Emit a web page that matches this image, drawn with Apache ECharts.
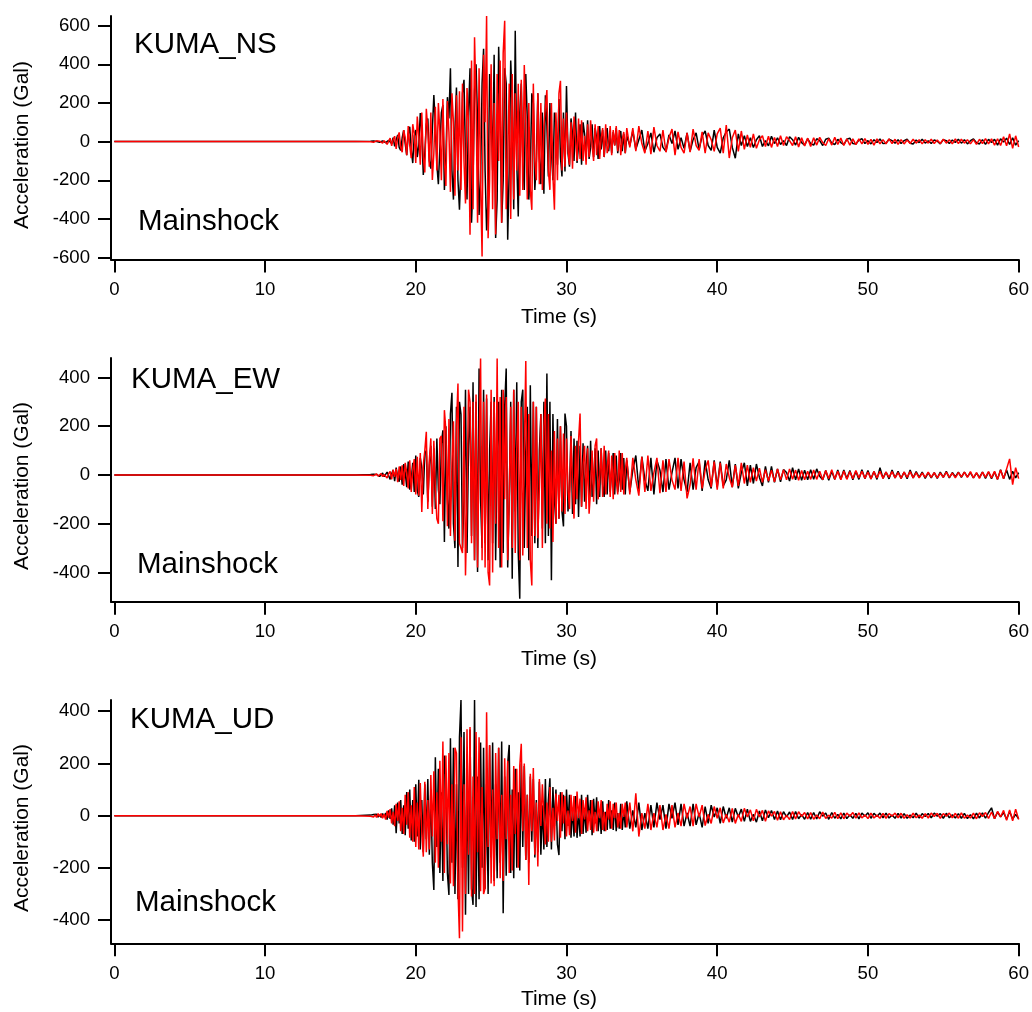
<!DOCTYPE html>
<html>
<head>
<meta charset="utf-8">
<script src="https://cdn.jsdelivr.net/npm/echarts@6/dist/echarts.min.js"></script>
<style>
html,body{margin:0;padding:0;background:#fff;}
#c{width:1032px;height:1012px;}
</style>
</head>
<body>
<div id="c"></div>
<script>
// ---- time sampling (s) ----
const segAStart = 17.0, segAStep = 0.1;   // 17.0 .. 34.0
const segBStart = 34.2, segBStep = 0.2;   // 34.2 .. 60.0
const leadTimes = [0, 16];
const leadValues = [0, 0];

const xTicks = [0, 10, 20, 30, 40, 50, 60];
const yTicksNS = [-600, -400, -200, 0, 200, 400, 600];
const yTicksEW = [-400, -200, 0, 200, 400];
const yTicksUD = [-400, -200, 0, 200, 400];

const panelNames = ['KUMA_NS', 'KUMA_EW', 'KUMA_UD'];
const eventLabel = 'Mainshock';

// ---- NS, black ----
const nsBlackA = [
 2,-1,3,-4,1,5,-3,-6,4,8,
 -5,-12,6,15,-10,20,-25,8,35,-30,
 -45,20,60,-10,-70,35,77,-40,-111,30,
 60,-80,-20,148,40,-172,-60,90,120,-100,
 -140,60,241,80,-120,-220,-30,150,190,-250,
 -80,230,120,379,-150,-300,60,280,-200,-353,
 -120,250,320,-80,-300,150,380,-420,-200,260,
 400,100,-380,-200,300,480,-150,-460,-300,350,
 200,-150,450,-499,-300,491,150,-420,-200,380,
 300,-508,-150,420,200,-350,574,-100,-388,150,
 300,-100,-250,350,120,-300,-150,250,200,-250,
 -100,250,-80,-220,150,-270,240,80,-180,200,
 -50,-200,150,100,-120,220,-80,-180,150,-155,
 288,-60,-130,120,40,-100,150,-110,-20,90,
 -120,100,40,-80,110,-90,-30,90,-80,70,
 20,-90,80,-40,60,-80,30,70,-50,40,
 -60,50,-20,70,-60,10,55,-50,40,-60,30
];
const nsBlackB = [
 -20,55,-40,10,60,-50,-10,45,-55,20,
 40,-30,-50,35,-10,55,-40,20,-35,45,
 -50,10,45,-40,30,55,-20,-45,60,-30,
 -60,20,50,65,-30,-86,40,-20,30,-25,
 20,-30,10,30,-25,5,-22,28,-10,20,
 -15,5,-20,25,10,-18,22,-5,-18,15,
 -10,-18,15,5,-20,12,18,-8,-15,12,
 -5,-15,12,18,-10,-12,8,15,-10,5,
 -12,10,-5,14,-10,-8,12,5,-8,10,
 -10,5,12,-8,-12,8,-5,12,-8,4,
 -10,8,2,-12,10,5,-10,8,-4,12,
 -8,10,-12,5,14,-6,-12,10,-14,12,
 -5,12,-18,15,-2,18,-15,20,-18,5
];
// ---- NS, red ----
const nsRedA = [
 -1,2,-3,1,4,-5,2,6,-8,5,
 10,-14,-5,18,-22,10,28,-38,20,48,
 -30,-55,60,20,-70,80,-20,-85,90,40,
 -110,130,30,-120,150,-80,-160,170,60,-130,
 150,-198,-60,180,-150,200,50,-200,220,-100,
 -230,210,50,-260,250,100,-280,240,-150,260,
 -250,300,-100,-320,277,100,-482,420,-350,540,
 200,-420,380,-200,-594,450,100,650,-500,-200,
 400,-350,200,-480,350,-100,420,-420,458,625,
 -350,-100,300,-400,350,-300,250,-150,300,-280,
 320,-250,396,100,-300,200,-250,-353,300,-100,
 -200,250,-220,200,-250,80,180,267,-150,-250,
 200,-180,-353,150,-200,250,315,-150,120,-130,
 150,-40,-120,100,-140,130,20,-100,120,-90,
 110,-100,30,-120,90,-80,110,-20,-100,90,
 -70,80,-90,20,70,-80,90,-60,-20,80,
 -70,60,-20,80,-50,60,-70,10,50,-60,70
];
const nsRedB = [
 -30,70,-50,80,-10,-60,55,-65,75,-20,
 -50,60,-55,20,65,-70,50,-30,-60,45,
 -55,65,-20,-45,50,-60,45,10,-50,40,
 70,-60,86,-85,20,60,-50,55,-40,35,
 -30,40,-35,10,30,-25,28,-30,22,-25,
 30,-20,25,5,-20,25,-28,20,-22,18,
 -25,20,-18,22,-5,-20,16,-18,22,-15,
 18,-20,15,-18,14,-16,14,-12,16,-14,
 12,-18,14,-12,10,-12,14,-10,12,-14,
 10,-12,8,-10,12,-8,10,-12,10,-8,
 12,-10,8,-10,12,-8,10,-12,14,-10,
 12,-8,10,-12,10,-14,12,-10,15,-12,
 14,-18,15,-20,25,-22,40,-35,30,-28
];
// ---- EW, black ----
const ewBlackA = [
 2,-1,3,-4,2,5,-6,1,8,-7,
 -10,12,15,-18,5,20,-25,30,-10,-28,
 35,-40,45,10,-50,55,-60,-20,50,-70,
 80,-65,-90,70,30,-80,90,100,-110,40,
 120,-130,110,-140,150,-60,-120,130,183,-275,
 200,-100,-220,250,337,-200,-300,280,-378,300,
 250,-300,-100,350,-320,120,280,-250,380,-350,
 300,-398,437,-100,-300,350,-280,314,-350,100,
 300,-280,320,-350,100,300,-380,350,-320,280,
 437,-380,-100,300,-426,350,-150,380,-320,-508,
 300,350,-300,100,280,-350,368,-250,300,-280,
 280,-300,100,250,-220,300,-280,416,-250,300,
 -432,250,-100,-200,230,-180,200,-150,-211,252,
 200,-150,-60,180,-160,150,-120,140,-172,120,
 -130,130,-110,40,120,-100,140,-90,-30,110,
 -120,100,-90,110,-40,-90,100,-80,90,-70,
 20,90,-80,80,-70,-20,90,-60,70,-80,60
];
const ewBlackB = [
 -70,20,80,-60,75,-20,-65,70,-80,60,
 20,-70,65,-60,10,70,-55,65,-20,-70,
 50,-60,30,55,-65,60,-20,-55,60,-50,
 55,-45,-20,60,-50,45,-55,10,50,-45,
 40,-35,45,-10,-45,35,-30,35,-30,25,
 -28,22,10,-25,30,-20,25,-22,20,-20,
 22,-18,25,-5,-20,18,-22,15,-18,20,
 -18,20,-15,18,-20,15,-18,22,-15,18,
 -16,14,-18,30,-14,12,-16,20,-12,15,
 -14,12,-15,20,-12,14,-10,12,-14,10,
 -12,10,-14,12,-10,15,-12,10,-8,12,
 -10,12,-8,10,-12,8,-10,12,-14,12,
 -15,12,-18,22,-15,20,-18,15,-12,10
];
// ---- EW, red ----
const ewRedA = [
 -1,2,-3,1,4,-5,3,6,-7,2,
 10,-12,5,15,-18,22,-8,25,-30,35,
 -20,40,-45,50,10,-55,60,-70,20,65,
 -80,75,-85,90,-152,40,100,177,-140,60,
 150,-160,140,-60,-180,-200,150,160,-190,266,
 180,-210,230,-250,50,220,-270,200,375,-280,
 -300,-320,280,-412,-100,350,300,-280,300,-350,
 330,-380,100,478,-350,300,-380,330,-400,-453,
 350,-400,300,-200,478,-300,320,-380,350,-100,
 320,-350,-100,280,-300,350,-320,100,300,-350,
 280,-330,100,468,-300,250,-350,-453,300,-250,
 280,-260,-50,250,-300,200,314,-200,250,-220,
 100,-275,180,-200,150,-180,200,-150,170,-160,
 150,-60,-140,160,-40,-179,120,-100,140,252,
 -130,40,120,-140,110,-159,-60,100,-110,120,
 150,-100,-20,110,-90,120,-80,30,100,-90,
 80,-100,90,-20,-80,100,-70,90,-80,20,70
];
const ewRedB = [
 -80,70,-20,-85,75,-70,80,-65,10,70,
 -75,60,-70,65,-20,-60,70,-65,55,-96,
 -40,68,-60,65,-55,20,60,-50,55,-60,
 50,-55,45,-10,-50,40,-45,50,-35,40,
 -30,30,-25,28,-30,22,-25,20,-28,25,
 -20,22,-20,25,-18,20,-22,18,-20,15,
 -18,20,-18,15,-20,18,-15,22,-18,15,
 -20,16,-18,14,-15,18,-12,15,-14,12,
 -16,14,-12,15,-14,12,-10,14,-12,10,
 -14,12,-10,14,-12,10,-12,8,-10,12,
 -10,10,-12,8,-10,12,-10,8,-12,10,
 -8,12,-10,14,-12,10,-14,12,-10,14,
 -12,15,-18,20,-15,25,66,-40,30,-15
];
// ---- UD, black ----
const udBlackA = [
 2,-3,4,-2,5,-6,3,-7,8,-5,
 10,-15,20,-12,28,-35,40,-67,50,-30,
 60,-70,40,-75,90,-50,100,-95,60,-100,
 120,-80,137,-130,60,-140,120,-90,140,-150,
 100,-180,-285,224,-120,180,-220,90,-250,230,
 150,-220,-304,296,-180,260,-300,120,-320,300,
 443,-200,320,-380,150,-300,330,-280,-342,443,
 -350,150,-320,280,-200,260,-280,120,-300,270,
 -160,280,-250,120,-240,260,-180,284,-374,150,
 -230,200,271,-220,100,-240,180,-200,90,-210,
 200,-120,190,-170,80,-180,150,-100,140,-160,
 60,-140,130,-150,40,-130,140,-120,60,143,
 -130,110,-40,100,-110,-151,90,-60,80,-90,
 100,-40,80,-85,30,-80,75,-85,20,-80,
 80,-70,30,-65,80,-20,60,-75,65,-30,
 70,-60,20,-70,55,-60,15,-55,60,-50,
 20,-55,50,-60,10,-50,45,-55,20,-45,55
];
const udBlackB = [
 -50,20,-45,50,-55,10,-50,40,-45,50,
 -15,40,-50,45,-10,50,-35,45,-40,10,
 -40,45,-35,10,-45,35,-30,40,-5,30,
 -30,35,-10,30,-25,28,-5,25,-22,25,
 -22,5,-25,18,-20,22,-8,20,-15,18,
 -16,15,-5,14,-15,16,-12,4,-14,12,
 -14,12,-13,15,-2,10,-14,12,-10,5,
 -12,10,-11,3,-10,9,-12,10,-2,11,
 -10,9,-3,10,-8,10,-9,2,-10,9,
 -9,8,-10,2,-8,10,-9,8,-3,8,
 -8,10,-2,8,-10,9,-8,3,-9,8,
 -10,9,-11,4,-12,10,-9,11,-10,12,
 30,-12,14,-5,12,-14,16,-13,5,-12
];
// ---- UD, red ----
const udRedA = [
 -2,4,-5,3,-7,8,-4,8,-10,6,
 -15,18,-8,25,-30,15,-40,45,-20,55,
 -60,30,-70,80,-35,90,-85,40,-100,110,
 -120,50,-130,125,-60,-157,130,-140,60,-130,
 156,-80,170,-180,90,-200,210,-100,284,-220,
 230,-110,240,-260,120,-270,260,239,-280,-470,
 300,-444,120,-300,331,-150,340,-310,150,-300,
 320,-140,300,-290,110,-300,-278,396,-120,270,
 -260,100,-270,240,-90,260,-240,80,-250,220,
 -90,210,-220,80,-210,190,-70,180,-200,190,
 275,-60,200,-170,80,-266,160,-60,182,-150,
 50,-195,140,-40,120,114,-110,50,-100,110,
 -100,30,-95,85,-20,80,-85,90,-30,75,
 -80,20,-75,80,-20,75,-65,92,-10,65,
 -70,60,-15,70,-60,20,-55,60,-65,15,
 -60,55,-10,60,-55,15,-60,45,-15,55,
 -50,45,-10,50,-45,10,-50,45,-5,50,-45
];
const udRedB = [
 50,-60,86,-80,10,-50,45,-55,10,-45,
 40,-55,5,-50,40,-45,10,-40,45,-10,
 35,-40,45,-5,40,-38,5,-30,35,-10,
 30,-28,5,-25,28,-30,5,-22,28,-5,
 22,-20,24,-5,20,-22,18,-2,16,-18,
 15,-16,2,-15,16,-13,15,-3,12,-13,
 12,-14,3,-12,14,-11,2,-10,13,-12,
 11,-12,10,-2,12,-10,11,-9,3,-11,
 10,-9,2,-10,9,-10,8,-2,10,-8,
 9,-10,3,-9,10,-8,2,-10,8,-9,
 10,-3,9,-10,8,-2,10,-8,9,-10,
 11,-10,2,-9,10,-12,11,-3,12,-11,
 14,-12,16,-5,20,-18,22,-20,25,-15
];

function build(a, b) {
  const out = [];
  for (let i = 0; i < leadTimes.length; i++) out.push([leadTimes[i], leadValues[i]]);
  a.forEach((v, i) => out.push([+(segAStart + i * segAStep).toFixed(2), v]));
  b.forEach((v, i) => out.push([+(segBStart + i * segBStep).toFixed(2), v]));
  return out;
}

const FONT = '"Liberation Sans", Arial, Helvetica, sans-serif';
const panels = [
  { top: 16, height: 243.5, min: -610, max: 650, ticks: yTicksNS, black: build(nsBlackA, nsBlackB), red: build(nsRedA, nsRedB),
    titleY: 145, timeY: 317, nameY: 44.5, nameX: 134, evY: 222, evX: 138 },
  { top: 358, height: 243.7, min: -520, max: 480, ticks: yTicksEW, black: build(ewBlackA, ewBlackB), red: build(ewRedA, ewRedB),
    titleY: 486, timeY: 659, nameY: 379.5, nameX: 131, evY: 564.5, evX: 137 },
  { top: 700, height: 243.3, min: -489, max: 443, ticks: yTicksUD, black: build(udBlackA, udBlackB), red: build(udRedA, udRedB),
    titleY: 828, timeY: 999, nameY: 720, nameX: 130, evY: 903, evX: 135 }
];

const axisLineStyle = { color: '#000', width: 2 };
const option = {
  backgroundColor: '#fff',
  animation: false,
  grid: [], xAxis: [], yAxis: [], series: [], graphic: []
};
panels.forEach((p, k) => {
  option.grid.push({ left: 111, width: 908, top: p.top, height: p.height, containLabel: false });
  option.xAxis.push({
    gridIndex: k, type: 'value', min: -0.22, max: 60,
    axisLine: { show: true, onZero: false, lineStyle: axisLineStyle },
    axisTick: { show: true, length: 13, lineStyle: axisLineStyle, customValues: xTicks },
    axisLabel: { customValues: xTicks, color: '#000', fontSize: 18.6, fontFamily: FONT, margin: 21 },
    splitLine: { show: false }
  });
  option.yAxis.push({
    gridIndex: k, type: 'value', min: p.min, max: p.max,
    axisLine: { show: true, onZero: false, lineStyle: axisLineStyle },
    axisTick: { show: true, length: 13, lineStyle: axisLineStyle, customValues: p.ticks },
    axisLabel: { customValues: p.ticks, color: '#000', fontSize: 18.6, fontFamily: FONT, margin: 21 },
    splitLine: { show: false }
  });
  option.series.push({
    type: 'line', xAxisIndex: k, yAxisIndex: k, data: p.black, showSymbol: false, symbol: 'none',
    lineStyle: { color: '#000', width: 1.5 }, sampling: null, z: 2, silent: true, clip: true
  });
  option.series.push({
    type: 'line', xAxisIndex: k, yAxisIndex: k, data: p.red, showSymbol: false, symbol: 'none',
    lineStyle: { color: '#ff0000', width: 1.5 }, sampling: null, z: 3, silent: true, clip: true
  });
  option.graphic.push(
    { type: 'text', x: 22, y: p.titleY, rotation: Math.PI / 2,
      style: { text: 'Acceleration (Gal)', font: '21px ' + FONT, fill: '#000', align: 'center', verticalAlign: 'middle' } },
    { type: 'text', x: 559, y: p.timeY,
      style: { text: 'Time (s)', font: '21px ' + FONT, fill: '#000', align: 'center', verticalAlign: 'middle' } },
    { type: 'text', x: p.nameX, y: p.nameY,
      style: { text: panelNames[k], font: '29.5px ' + FONT, fill: '#000', align: 'left', verticalAlign: 'middle' } },
    { type: 'text', x: p.evX, y: p.evY,
      style: { text: eventLabel, font: '29.5px ' + FONT, fill: '#000', align: 'left', verticalAlign: 'middle' } }
  );
});

const chart = echarts.init(document.getElementById('c'), null, { renderer: 'canvas' });
chart.setOption(option);
</script>
</body>
</html>
